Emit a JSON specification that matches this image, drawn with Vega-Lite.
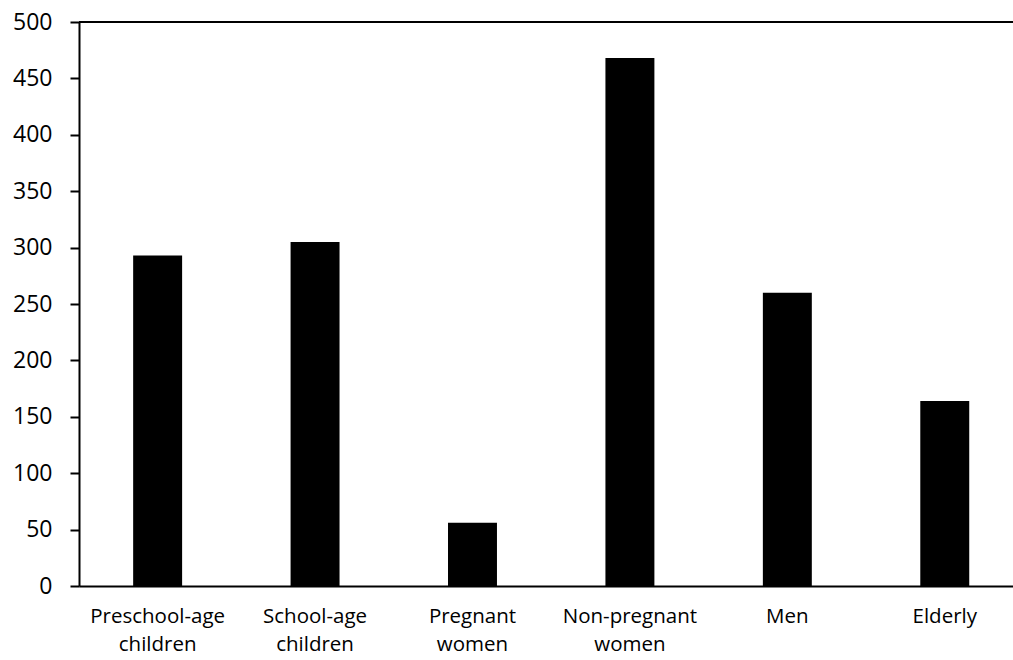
{
  "$schema": "https://vega.github.io/schema/vega-lite/v6.json",
  "autosize": {"type": "none"},
  "padding": {"left": 79, "top": 22, "right": 0, "bottom": 74},
  "width": 934,
  "height": 564,
  "background": "white",
  "config": {
    "view": {"stroke": null},
    "font": "Open Sans",
    "axis": {"labelFont": "Open Sans", "labelColor": "#000000", "domainColor": "#000000", "tickColor": "#000000", "grid": false, "title": null}
  },
  "data": {
    "values": [
      {"group": "Preschool-age children", "value": 293},
      {"group": "School-age children", "value": 305},
      {"group": "Pregnant women", "value": 56},
      {"group": "Non-pregnant women", "value": 468},
      {"group": "Men", "value": 260},
      {"group": "Elderly", "value": 164}
    ]
  },
  "layer": [
    {
      "mark": {"type": "bar", "color": "#000000"},
      "encoding": {
        "x": {
          "field": "group",
          "type": "nominal",
          "sort": null,
          "scale": {"type": "band", "range": [0, 944.4], "paddingInner": 0.689, "paddingOuter": 0.344},
          "axis": {
            "labelAngle": 0,
            "labelFontSize": 20.5,
            "labelPadding": 20,
            "labelLineHeight": 28,
            "labelExpr": "split(datum.label, ' ')",
            "ticks": false,
            "domainWidth": 2,
            "labelBaseline": "top"
          }
        },
        "y": {
          "field": "value",
          "type": "quantitative",
          "scale": {"domain": [0, 500], "nice": false},
          "axis": {
            "values": [0, 50, 100, 150, 200, 250, 300, 350, 400, 450, 500],
            "labelFontSize": 23,
            "labelPadding": 18,
            "tickSize": 9,
            "tickWidth": 2,
            "domainWidth": 2
          }
        }
      }
    },
    {
      "mark": {"type": "rule", "color": "#000000", "strokeWidth": 2},
      "encoding": {"y": {"datum": 500, "type": "quantitative"}}
    }
  ]
}
